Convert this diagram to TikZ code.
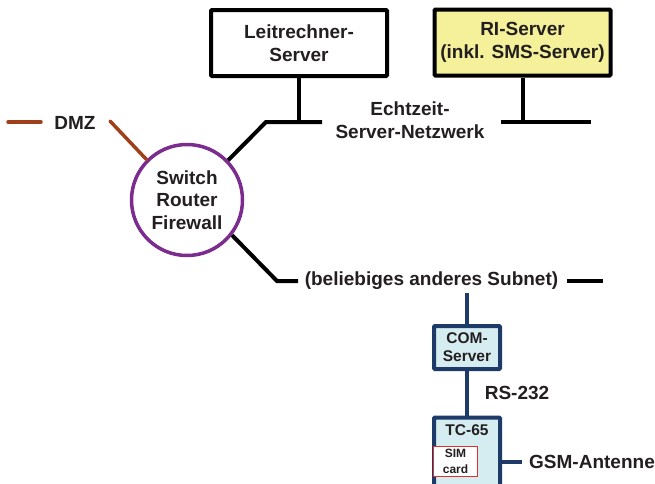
\documentclass[tikz,border=0pt]{standalone}
\usepackage{fontspec}
\setmainfont{Liberation Sans}
\begin{document}
\begin{tikzpicture}[x=1pt,y=-1pt,
  every node/.style={font=\bfseries\fontsize{19}{22.5}\selectfont, text=txt, align=center, inner sep=0pt},
  bigbox/.style={draw=black, line width=4pt, rounded corners=1pt, minimum width=176pt, minimum height=66pt},
  smallbox/.style={draw=navy, fill=lcyan, line width=4pt, rounded corners=1pt, minimum width=66pt, font=\bfseries\fontsize{15.5}{18}\selectfont},
  wire/.style={line width=4pt},
  bwire/.style={line width=4pt, draw=navy},
  rwire/.style={line width=3.5pt, draw=dmz, line cap=round}]
\definecolor{txt}{RGB}{35,31,32}
\definecolor{navy}{RGB}{30,58,104}
\definecolor{lcyan}{RGB}{213,237,240}
\definecolor{yel}{RGB}{245,240,154}
\definecolor{purp}{RGB}{123,44,142}
\definecolor{dmz}{RGB}{160,64,26}
\definecolor{simred}{RGB}{224,49,47}
\useasboundingbox (0,0) rectangle (655,483);

\node[bigbox] (lr) at (299,43) {Leitrechner-\\Server};
\node[bigbox, fill=yel] (ri) at (522.5,42.5) {RI-Server\\(inkl. SMS-Server)};
\node[draw=purp, line width=3.5pt, circle, minimum size=111pt] (sw) at (187,200) {Switch\\Router\\Firewall};

\node (echt) at (410,120) {Echtzeit-\\Server-Netzwerk};
\node (dmzt) at (75,123) {DMZ};
\node (subnet) at (431.5,281) {(beliebiges anderes Subnet)};

\node[smallbox, minimum height=43pt] (com) at (467,347.5) {COM-\\Server};
\node[smallbox, minimum height=75pt, label={[anchor=north, yshift=-9pt, font=\bfseries\fontsize{15.5}{18}\selectfont, text=txt]north:TC-65}] (tc) at (467,455) {};
\node[draw=simred, fill=white, line width=1.8pt, minimum width=44pt, minimum height=30pt, font=\bfseries\fontsize{12}{15.5}\selectfont] (sim) at (455.5,461.5) {SIM\\card};

\node (rs) at (517,393) {RS-232};
\node[anchor=west] (gsm) at (529,462) {GSM-Antenne};

% coordinates
\coordinate (lbus1) at (266,122);
\coordinate (lbus2) at (322,122);
\coordinate (rbus1) at (501,122);
\coordinate (rbus2) at (591,122);
\coordinate (sb1) at (277,281);
\coordinate (sb2) at (298,281);
\coordinate (sr1) at (567,281);
\coordinate (sr2) at (603,281);
\coordinate (d1) at (8,122);
\coordinate (d2) at (41,122);
\coordinate (d3) at (110,121);
\coordinate (gsmend) at (522,462);

% black network
\draw[wire] (lr.south) -- (lr.south |- lbus1);
\draw[wire] (sw.44) -- (lbus1) -- (lbus2);
\draw[wire] (ri.south) -- (ri.south |- rbus1);
\draw[wire] (rbus1) -- (rbus2);
\draw[wire] (sw.-38) -- (sb1) -- (sb2);
\draw[wire] (sr1) -- (sr2);

% DMZ
\draw[rwire] (d1) -- (d2);
\draw[rwire] (sw.135) -- (d3);

% blue
\draw[bwire] (subnet.south -| com.north) ++(0,3) -- (com.north);
\draw[bwire] (com.south) -- (tc.north);
\draw[bwire] (tc.east |- gsmend) -- (gsmend);
\end{tikzpicture}
\end{document}
